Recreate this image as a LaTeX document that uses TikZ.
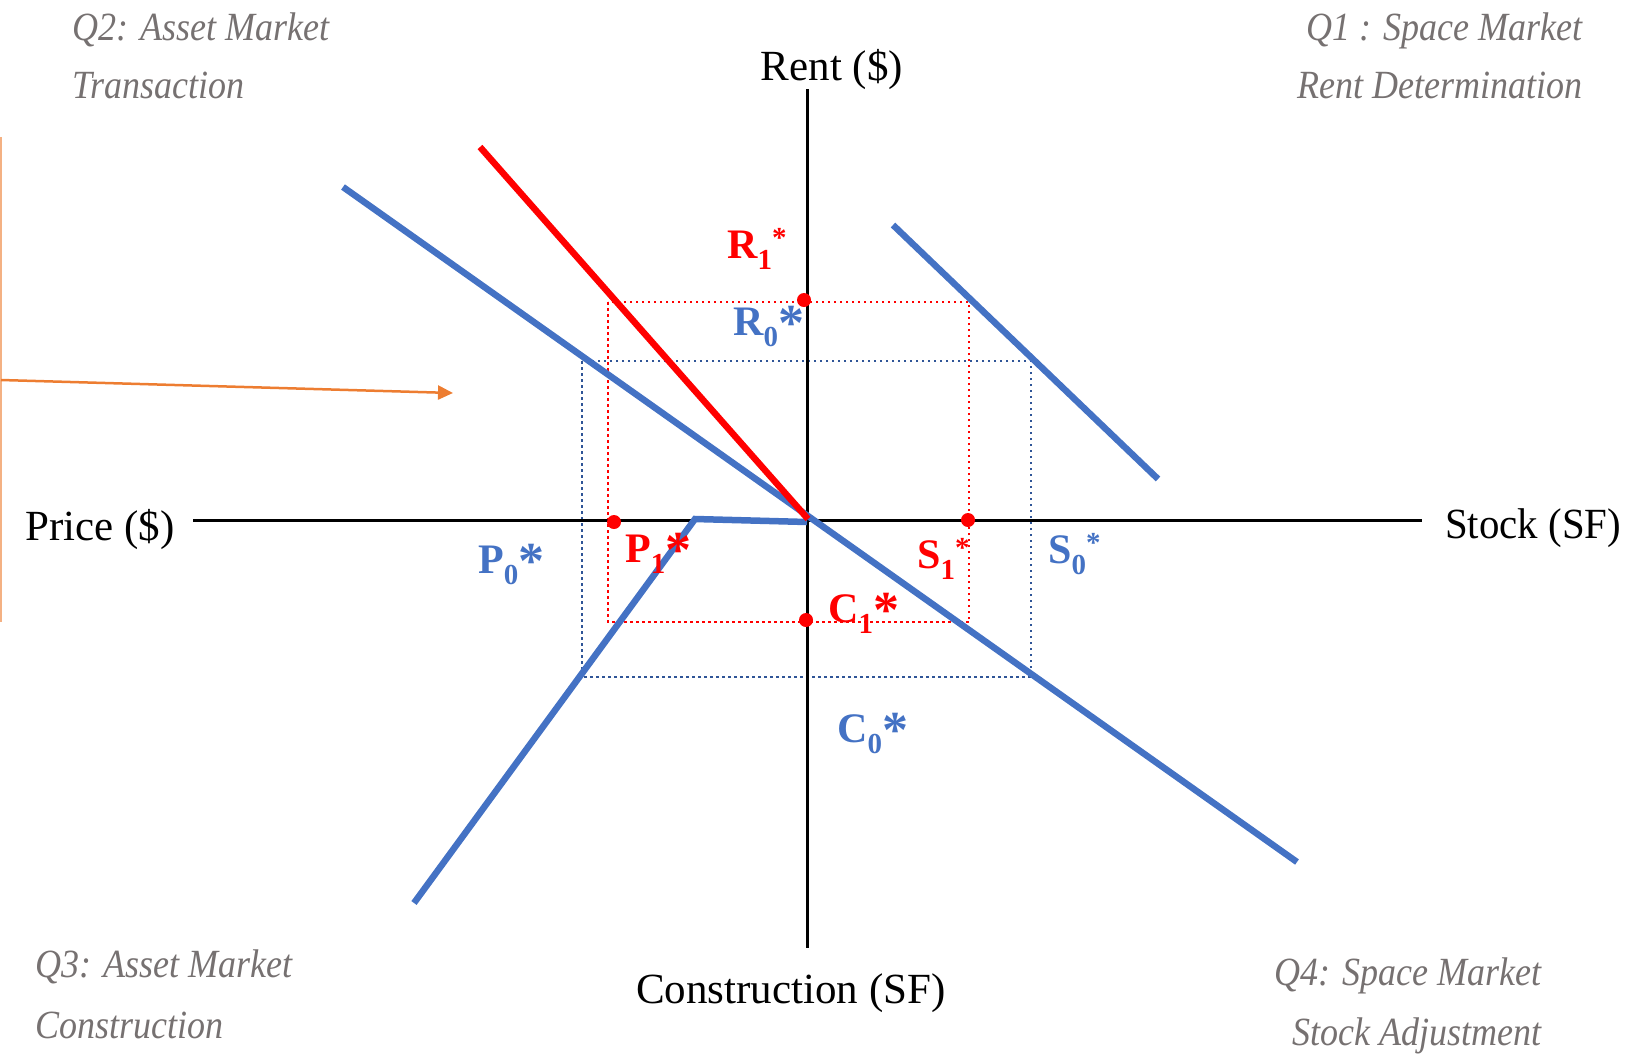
\documentclass[tikz,border=0pt]{standalone}
\usepackage{fontspec}
\setmainfont{Liberation Serif}
\usetikzlibrary{arrows.meta}
\definecolor{myblue}{HTML}{4472C4}
\definecolor{dotblue}{HTML}{2F5597}
\definecolor{myred}{HTML}{FF0000}
\definecolor{myorange}{HTML}{ED7D31}
\definecolor{lightorange}{HTML}{F4B183}
\definecolor{qgray}{HTML}{767171}
\newcommand\labA[2]{#1\raisebox{-0.28em}{\fontsize{29}{29}\selectfont #2}\raisebox{-0.12em}{\fontsize{52}{52}\selectfont *}}
\newcommand\labB[2]{#1\raisebox{-0.28em}{\fontsize{29}{29}\selectfont #2}\raisebox{0.25em}{\fontsize{29}{29}\selectfont *}}
\newcommand\qtxt[1]{\scalebox{0.9}[1]{#1}}
\tikzset{
  axisline/.style={line width=3pt, black},
  bluecurve/.style={line width=6.5pt, myblue},
  redcurve/.style={line width=6.5pt, myred},
  reddots/.style={myred, line width=2.5pt, dash pattern=on 2.5pt off 3.5pt},
  bluedots/.style={dotblue, line width=2.5pt, dash pattern=on 2.5pt off 3.5pt},
  rdot/.style={circle, fill=myred, inner sep=0pt, minimum size=14pt},
  lbl/.style={font=\fontsize{42}{42}\selectfont\bfseries, inner sep=0pt, anchor=base west},
  axlbl/.style={font=\fontsize{43}{43}\selectfont, inner sep=0pt},
  qlbl/.style={font=\fontsize{40}{40}\selectfont\itshape, text=qgray, inner sep=0pt},
}
\begin{document}
\begin{tikzpicture}[x=1pt, y=-1pt]
\useasboundingbox (0,0) rectangle (1639,1053);
% coordinates
\coordinate (O) at (807,520);
\coordinate (axL) at (193,520);
\coordinate (axR) at (1422,520);
\coordinate (axT) at (807,89);
\coordinate (axB) at (807,948);
% dotted rectangles
\coordinate (rb1) at (582,361);
\coordinate (rb2) at (1031,677);
\coordinate (rr1) at (608,302);
\coordinate (rr2) at (969,622);
\draw[bluedots] (rb1) rectangle (rb2);
\draw[reddots] (rr1) rectangle (rr2);
% axes
\draw[axisline] (axL) -- (axR);
\draw[axisline] (axT) -- (axB);
% curves
\coordinate (b1s) at (343,187);
\coordinate (b1e) at (1297,862);
\draw[bluecurve] (b1s) -- (b1e);
\coordinate (q1s) at (893,225);
\coordinate (q1e) at (1158,479);
\draw[bluecurve] (q1s) -- (q1e);
\coordinate (q3s) at (414,903);
\coordinate (q3k) at (695,519);
\coordinate (q3e) at (807,522);
\draw[bluecurve] (q3s) -- (q3k) -- (q3e);
\coordinate (rs) at (480,147);
\coordinate (re) at (808,519);
\draw[redcurve] (rs) -- (re);
% red dots
\node[rdot] (dR) at (804,300) {};
\node[rdot] (dP) at (614,522) {};
\node[rdot] (dS) at (968,520) {};
\node[rdot] (dC) at (806,620) {};
% labels
\node[lbl, text=myred] (R1) at (727,258) {\labB{R}{1}};
\node[lbl, text=myblue] (R0) at (733,335) {\labA{R}{0}};
\node[lbl, text=myblue] (P0) at (478,573) {\labA{P}{0}};
\node[lbl, text=myred] (P1) at (625,562) {\labA{P}{1}};
\node[lbl, text=myred] (S1) at (917,568) {\labB{S}{1}};
\node[lbl, text=myblue] (S0) at (1048,563) {\labB{S}{0}};
\node[lbl, text=myred] (C1) at (828,622) {\labA{C}{1}};
\node[lbl, text=myblue] (C0) at (837,742) {\labA{C}{0}};
% axis labels
\node[axlbl, anchor=base] (rent) at (832,80) {Rent (\$)};
\node[axlbl, anchor=base west] (price) at (25,540) {Price (\$)};
\node[axlbl, anchor=base west] (stock) at (1445,538) {\scalebox{0.95}[1]{Stock (SF)}};
\node[axlbl, anchor=base west] (constr) at (636,1003) {Construction (SF)};
% quadrant labels
\node[qlbl, anchor=base west] (q2a) at (72,40) {\qtxt{Q2: Asset Market}};
\node[qlbl, anchor=base west] (q2b) at (72,98) {\qtxt{Transaction}};
\node[qlbl, anchor=base east] (q1a) at (1583,40) {\qtxt{Q1 : Space Market}};
\node[qlbl, anchor=base east] (q1b) at (1583,98) {\qtxt{Rent Determination}};
\node[qlbl, anchor=base west] (q3a) at (35,977) {\qtxt{Q3: Asset Market}};
\node[qlbl, anchor=base west] (q3b) at (35,1038) {\qtxt{Construction}};
\node[qlbl, anchor=base east] (q4a) at (1542,985) {\qtxt{Q4: Space Market}};
\node[qlbl, anchor=base east] (q4b) at (1542,1045) {\qtxt{Stock Adjustment}};
% orange
\coordinate (ot) at (1,137);
\coordinate (ob) at (1,622);
\coordinate (om) at (1,380);
\coordinate (oa) at (453,393);
\draw[lightorange, line width=2pt] (ot) -- (ob);
\draw[myorange, line width=2.5pt, -{Triangle[length=15pt, width=14pt]}] (om) -- (oa);
\end{tikzpicture}
\end{document}
